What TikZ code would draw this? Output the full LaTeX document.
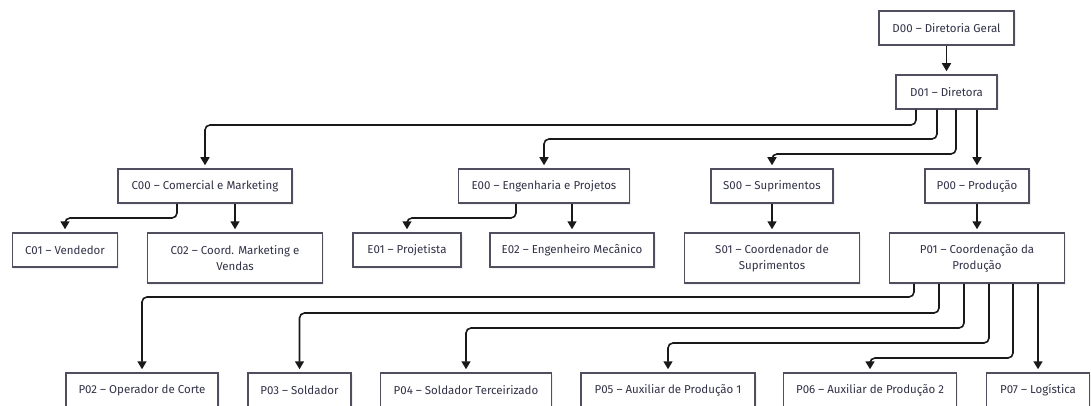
\documentclass[tikz,border=0pt]{standalone}
\usepackage{fontspec}
\setmainfont{Fira Sans}
\usetikzlibrary{arrows.meta,shadows}
\definecolor{boxline}{RGB}{80,78,95}
\definecolor{txt}{RGB}{50,50,72}
\definecolor{conline}{RGB}{25,25,25}
\begin{document}
\begin{tikzpicture}[x=1pt,y=-1pt,
  box/.style={draw=boxline,line width=1.5pt,fill=white,minimum height=34pt,
    inner sep=2pt,align=center,text=txt,font=\fontsize{11.5}{16}\selectfont,
    drop shadow={opacity=0.12,shadow xshift=1.5pt,shadow yshift=-1.5pt}},
  tall/.style={minimum height=50pt},
  conn/.style={draw=conline,line width=1.6pt,rounded corners=5pt,
    -{Triangle[length=8pt,width=9pt]},shorten >=3pt}]
\useasboundingbox (0,0) rectangle (1091,406);
% top
\node[box,minimum width=135pt] (D00) at (946.5,28) {D00 – Diretoria Geral};
\node[box,minimum width=101pt] (D01) at (946.5,92) {D01 – Diretora};
% level 2
\node[box,minimum width=174pt] (C00) at (205,186) {C00 – Comercial e Marketing};
\node[box,minimum width=171pt] (E00) at (544,186) {E00 – Engenharia e Projetos};
\node[box,minimum width=122pt] (S00) at (772,186) {S00 – Suprimentos};
\node[box,minimum width=104pt] (P00) at (977,186) {P00 – Produção};
% level 3
\node[box,minimum width=105pt] (C01) at (65,250) {C01 – Vendedor};
\node[box,tall,minimum width=175pt] (C02) at (235,258) {C02 – Coord. Marketing e\\Vendas};
\node[box,minimum width=108pt] (E01) at (407,250) {E01 – Projetista};
\node[box,minimum width=164pt] (E02) at (572,250) {E02 – Engenheiro Mecânico};
\node[box,tall,minimum width=175pt] (S01) at (772,258) {S01 – Coordenador de\\Suprimentos};
\node[box,tall,minimum width=175pt] (P01) at (977,258) {P01 – Coordenação da\\Produção};
% level 4
\node[box,minimum width=152pt] (P02) at (142,390) {P02 – Operador de Corte};
\node[box,minimum width=103pt] (P03) at (299.5,390) {P03 – Soldador};
\node[box,minimum width=171pt] (P04) at (466,390) {P04 – Soldador Terceirizado};
\node[box,minimum width=174pt] (P05) at (668,390) {P05 – Auxiliar de Produção 1};
\node[box,minimum width=173pt] (P06) at (870,390) {P06 – Auxiliar de Produção 2};
\node[box,minimum width=103pt] (P07) at (1038,390) {P07 – Logística};
% connectors
\draw[conn] (D00) -- (D01);
\draw[conn] (D01.south -| 916,0) -- (916,125) -- (205,125) -- (C00.north);
\draw[conn] (D01.south -| 937,0) -- (937,139) -- (544,139) -- (E00.north);
\draw[conn] (D01.south -| 956,0) -- (956,154) -- (772,154) -- (S00.north);
\draw[conn] (D01.south -| 977,0) -- (P00.north);
\draw[conn] (C00.south -| 177,0) -- (177,218) -- (65,218) -- (C01.north);
\draw[conn] (C00.south -| 235,0) -- (C02.north);
\draw[conn] (E00.south -| 516,0) -- (516,218) -- (407,218) -- (E01.north);
\draw[conn] (E00.south -| 572,0) -- (E02.north);
\draw[conn] (S00) -- (S01);
\draw[conn] (P00) -- (P01);
\draw[conn] (P01.south -| 914,0) -- (914,297) -- (142,297) -- (P02.north);
\draw[conn] (P01.south -| 939,0) -- (939,313) -- (299.5,313) -- (P03.north);
\draw[conn] (P01.south -| 964,0) -- (964,328) -- (466,328) -- (P04.north);
\draw[conn] (P01.south -| 989,0) -- (989,343) -- (668,343) -- (P05.north);
\draw[conn] (P01.south -| 1013,0) -- (1013,358) -- (870,358) -- (P06.north);
\draw[conn] (P01.south -| 1038,0) -- (P07.north);
\end{tikzpicture}
\end{document}
